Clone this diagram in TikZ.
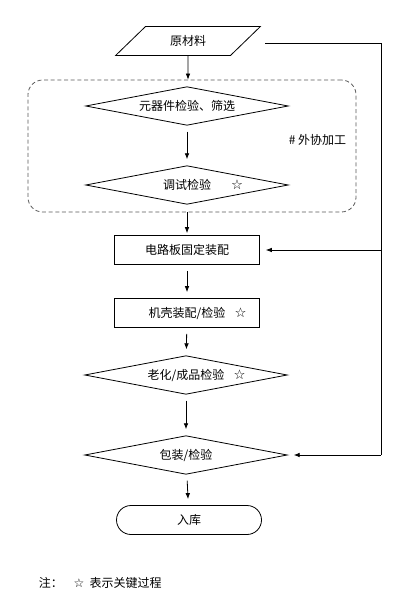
\documentclass[tikz,border=0pt]{standalone}
\usepackage{fontspec}
\newfontfamily\cjk{Noto Sans CJK SC}
\newfontfamily\sym{DejaVu Sans}
\usepackage{tikz}
\usetikzlibrary{shapes.geometric,shapes.misc,arrows.meta,positioning}
\newcommand{\keymark}[1][7pt]{\rlap{\hspace{#1}{\sym\fontsize{10}{10}\selectfont ☆}}}

\begin{document}
\begin{tikzpicture}[x=0.75pt, y=-0.75pt, line width=0.6pt, >={Latex[length=4.5pt,width=3.5pt]},
   font=\cjk\fontsize{9}{11}\selectfont]
   \useasboundingbox (0,0) rectangle (413,609);
   % frame of the outsourced steps
   \node (grp) [draw=black!65, dash pattern=on 3pt off 2pt, rounded corners=11pt,
      minimum width=246pt, minimum height=99pt] at (192,146) {};
   \node [anchor=west] at (284,140) {\#\ 外协加工};
   \begin{scope}[every node/.style={draw, inner sep=0pt, minimum width=108.75pt, minimum height=21.75pt}]
    \node (v1) [trapezium, trapezium left angle=41, trapezium right angle=139, trapezium stretches=true] at (188,41) {原材料};
    \node (v2) [diamond, aspect=5, minimum width=152pt, minimum height=29pt] at (187,106) {元器件检验、筛选};
    \node (v3) [diamond, aspect=5, minimum width=152pt, minimum height=29pt] at (187,185) {调试检验\keymark[15pt]};
    \node (v4) at (187,250) {电路板固定装配};
    \node (v5) at (187,313) {机壳装配/检验\keymark};
    \node (v6) [diamond, aspect=5, minimum width=152pt, minimum height=29pt] at (186,375) {老化/成品检验\keymark};
    \node (v7) [diamond, aspect=5, minimum width=152pt, minimum height=29pt] at (186,455) {包装/检验};
    \node (v8) [rounded rectangle] at (189,520) {入库};
   \end{scope}
   \coordinate (r1) at (265,43);
   \coordinate (r2) at (381,43);
   \coordinate (r3) at (381,250);
   \coordinate (r4) at (381,455);
   \begin{scope}[->, shorten <=4.5pt, shorten >=4.5pt]
    \draw [shorten <=0pt, shorten >=0pt] (v1) -- (v1 |- grp.north);
    \draw  (v2) -- (v3);
    \draw [shorten <=0pt, shorten >=1.5pt] (v4 |- grp.south) -- (v4);
    \draw  (v4) -- (v5);
    \draw  (v5) -- (v6);
    \draw  (v6) -- (v7);
    \draw  (v7) -- (v8);
    \draw [-, shorten <=0pt, shorten >=0pt] (r1) -- (r2) -- (r4);
    \draw [shorten <=0pt] (r3) -- (v4);
    \draw [shorten <=0pt] (r4) -- (v7);
   \end{scope}
   \node (note) [anchor=west] at (34,583) {注：\hspace{8pt}{\sym\fontsize{9}{9}\selectfont ☆}\hspace{4pt}表示关键过程};
\end{tikzpicture}
\end{document}
